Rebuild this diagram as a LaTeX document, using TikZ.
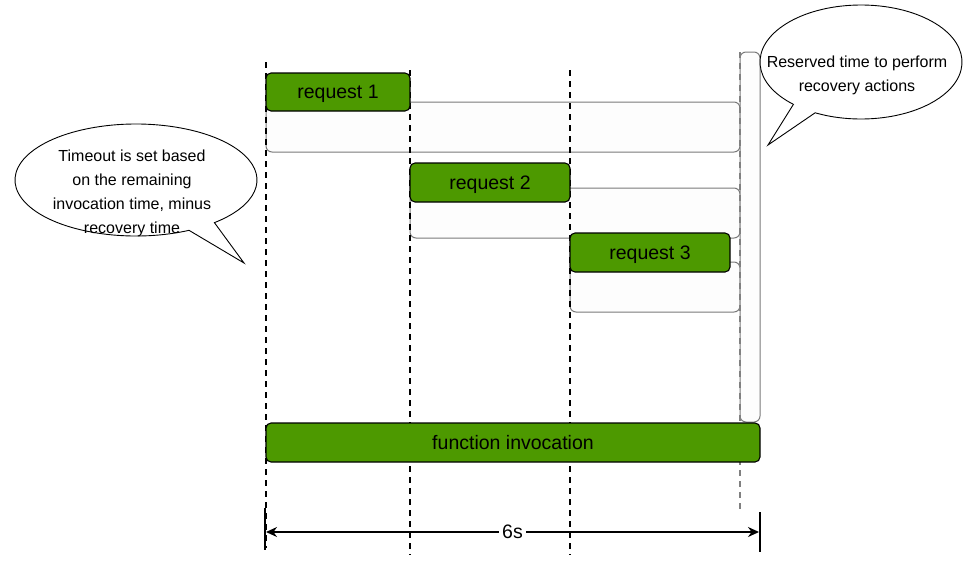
\documentclass[tikz,border=0pt]{standalone}
\usepackage{fontspec}
\setmainfont{Liberation Sans}
\usetikzlibrary{arrows.meta}
\definecolor{vgreen}{HTML}{4D9900}
\definecolor{lightfill}{HTML}{FDFDFD}
\definecolor{edgegray}{HTML}{7A7A7A}
\begin{document}
\begin{tikzpicture}[x=1pt,y=-1pt,
  greenbox/.style={draw=black, line width=1.1pt, fill=vgreen, rounded corners=5pt, inner sep=0pt, font=\fontsize{19.5}{23}\selectfont, text depth=2pt, text height=15pt},
  slot/.style={draw=edgegray, line width=1pt, fill=lightfill, rounded corners=6pt, inner sep=0pt},
  tline/.style={line width=2pt, dash pattern=on 6pt off 5pt},
  callout/.style={draw=black, line width=0.9pt, fill=white},
  ctext/.style={align=center, font=\fontsize{16}{24}\selectfont}]
\useasboundingbox (0,0) rectangle (971,560);

% light slots
\node[slot, minimum width=474pt, minimum height=50pt] (s1) at (503,127) {};
\node[slot, minimum width=330pt, minimum height=50pt] (s2) at (575,213) {};
\node[slot, minimum width=170pt, minimum height=50pt] (s3) at (655,287) {};
\node[slot, minimum width=20pt, minimum height=370pt] (tall) at (750,237) {};

% time lines
\coordinate (t1a) at (266,62);  \coordinate (t1b) at (266,548);
\coordinate (t2a) at (410,70);  \coordinate (t2b) at (410,555);
\coordinate (t3a) at (570,70);  \coordinate (t3b) at (570,555);
\coordinate (t4a) at (740,52);  \coordinate (t4b) at (740,512);
\draw[tline] (t1a) -- (t1b);
\draw[tline] (t2a) -- (t2b);
\draw[tline] (t3a) -- (t3b);
\draw[tline, draw=gray, line width=1.5pt] (t4a) -- (t4b);

% green boxes
\node[greenbox, minimum width=144pt, minimum height=38pt] (r1) at (338,92) {request 1};
\node[greenbox, minimum width=160pt, minimum height=39pt] (r2) at (490,182.5) {request 2};
\node[greenbox, minimum width=160pt, minimum height=39pt] (r3) at (650,252.5) {request 3};
\node[greenbox, minimum width=494pt, minimum height=39pt] (fi) at (513,442.5) {function invocation};

% dimension
\coordinate (k1a) at (265,508); \coordinate (k1b) at (265,550);
\coordinate (k2a) at (760,512); \coordinate (k2b) at (760,552);
\coordinate (d1) at (266,532); \coordinate (d2) at (759,532);
\draw[line width=2pt] (k1a) -- (k1b);
\draw[line width=2.5pt] (k2a) -- (k2b);
\draw[line width=1.6pt, {Stealth[length=11pt,width=10pt]}-{Stealth[length=11pt,width=10pt]}] (d1) -- node[fill=white, inner sep=3pt, font=\fontsize{19.5}{23}\selectfont, text height=14pt, text depth=2pt] (dimlabel) {6s} (d2);

% callouts
\draw[callout, shift={(861,62)}] (132:101 and 57) arc[start angle=132, end angle=477, x radius=101, y radius=57] -- (-93,83) -- cycle;
\node[ctext] (c1) at (857,75) {Reserved time to perform\\recovery actions};

\draw[callout, shift={(136,180)}] (64:121 and 56) arc[start angle=64, end angle=409.6, x radius=121, y radius=56] -- (108,83) -- cycle;
\node[ctext] (c2) at (132,193) {Timeout is set based\\on the remaining\\invocation time, minus\\recovery time};
\end{tikzpicture}
\end{document}
